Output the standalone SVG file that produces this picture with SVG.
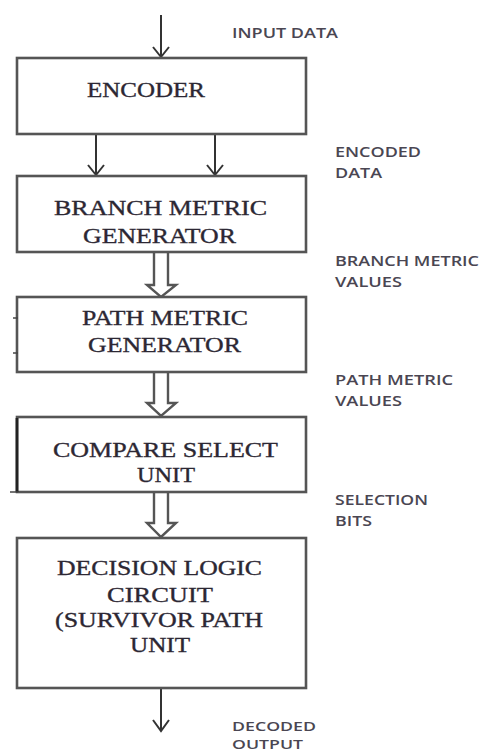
<svg xmlns="http://www.w3.org/2000/svg" width="481" height="754" viewBox="0 0 481 754">
<style>
.box{fill:#fff;stroke:#555;stroke-width:2.6}
.t{font-family:"Liberation Serif","Times New Roman",serif;font-size:22px;fill:#2c2733;stroke:#2c2733;stroke-width:0.35}
.l{font-family:"Open Sans","Liberation Sans",sans-serif;font-size:14.5px;font-weight:600;fill:#4a4652}
.s{font-size:13px}
.ln{fill:none;stroke:#333;stroke-width:2}
.hol{fill:#fff;stroke:#555;stroke-width:2.4;stroke-linejoin:miter}
.tick{stroke:#444;stroke-width:1.5}
</style>
<rect width="481" height="754" fill="#fff"/>
<g id="connectors">
<path class="ln" d="M161 15V57M153 47L161 57L169 47"/>
<path class="ln" d="M96 134V175M88 165L96 175L104 165"/>
<path class="ln" d="M215 134V175M207 165L215 175L223 165"/>
<path class="hol" d="M154 252V285H147L161 297L176 285H168V252"/>
<path class="hol" d="M154 372V403H147L161 416L176 403H168V372"/>
<path class="hol" d="M154 492V523H147L161 537L176 523H168V492"/>
<path class="ln" d="M161 688V731M153 720L161 731L169 720"/>
</g>
<g id="encoder">
<rect class="box" x="17" y="58" width="289" height="76"/>
<text class="t" x="87" y="97" textLength="118" lengthAdjust="spacingAndGlyphs">ENCODER</text>
</g>
<g id="branch-metric">
<rect class="box" x="17" y="176" width="289" height="76"/>
<text class="t" x="54" y="215" textLength="213" lengthAdjust="spacingAndGlyphs">BRANCH METRIC</text>
<text class="t" x="83" y="243" textLength="153" lengthAdjust="spacingAndGlyphs">GENERATOR</text>
</g>
<g id="path-metric">
<rect class="box" x="17" y="297" width="289" height="75"/>
<line class="tick" x1="13" y1="318" x2="18" y2="318"/>
<line class="tick" x1="13" y1="353" x2="18" y2="353"/>
<text class="t" x="82" y="325" textLength="166" lengthAdjust="spacingAndGlyphs">PATH METRIC</text>
<text class="t" x="88" y="352" textLength="153" lengthAdjust="spacingAndGlyphs">GENERATOR</text>
</g>
<g id="compare-select">
<rect class="box" x="17" y="417" width="289" height="75"/>
<line x1="17" y1="418" x2="17" y2="492" stroke="#222" stroke-width="2.8"/>
<line class="tick" x1="10" y1="492" x2="18" y2="492"/>
<text class="t" x="53" y="457" textLength="225" lengthAdjust="spacingAndGlyphs">COMPARE SELECT</text>
<text class="t" x="137" y="482" textLength="58" lengthAdjust="spacingAndGlyphs">UNIT</text>
</g>
<g id="decision-logic">
<rect class="box" x="17" y="538" width="289" height="150"/>
<text class="t" x="57" y="575" textLength="205" lengthAdjust="spacingAndGlyphs">DECISION LOGIC</text>
<text class="t" x="107" y="602" textLength="106" lengthAdjust="spacingAndGlyphs">CIRCUIT</text>
<text class="t" x="55" y="627" textLength="208" lengthAdjust="spacingAndGlyphs">(SURVIVOR PATH</text>
<text class="t" x="130" y="652" textLength="60" lengthAdjust="spacingAndGlyphs">UNIT</text>
</g>
<g id="labels">
<text class="l" x="232" y="38" textLength="106" lengthAdjust="spacingAndGlyphs">INPUT DATA</text>
<text class="l" x="335" y="157" textLength="86" lengthAdjust="spacingAndGlyphs">ENCODED</text>
<text class="l" x="335" y="178" textLength="47" lengthAdjust="spacingAndGlyphs">DATA</text>
<text class="l" x="335" y="266" textLength="144" lengthAdjust="spacingAndGlyphs">BRANCH METRIC</text>
<text class="l" x="335" y="287" textLength="67" lengthAdjust="spacingAndGlyphs">VALUES</text>
<text class="l" x="335" y="385" textLength="118" lengthAdjust="spacingAndGlyphs">PATH METRIC</text>
<text class="l" x="335" y="406" textLength="67" lengthAdjust="spacingAndGlyphs">VALUES</text>
<text class="l" x="335" y="505" textLength="93" lengthAdjust="spacingAndGlyphs">SELECTION</text>
<text class="l" x="335" y="526" textLength="37" lengthAdjust="spacingAndGlyphs">BITS</text>
<text class="l s" x="232" y="731" textLength="84" lengthAdjust="spacingAndGlyphs">DECODED</text>
<text class="l s" x="232" y="749" textLength="71" lengthAdjust="spacingAndGlyphs">OUTPUT</text>
</g>
</svg>
